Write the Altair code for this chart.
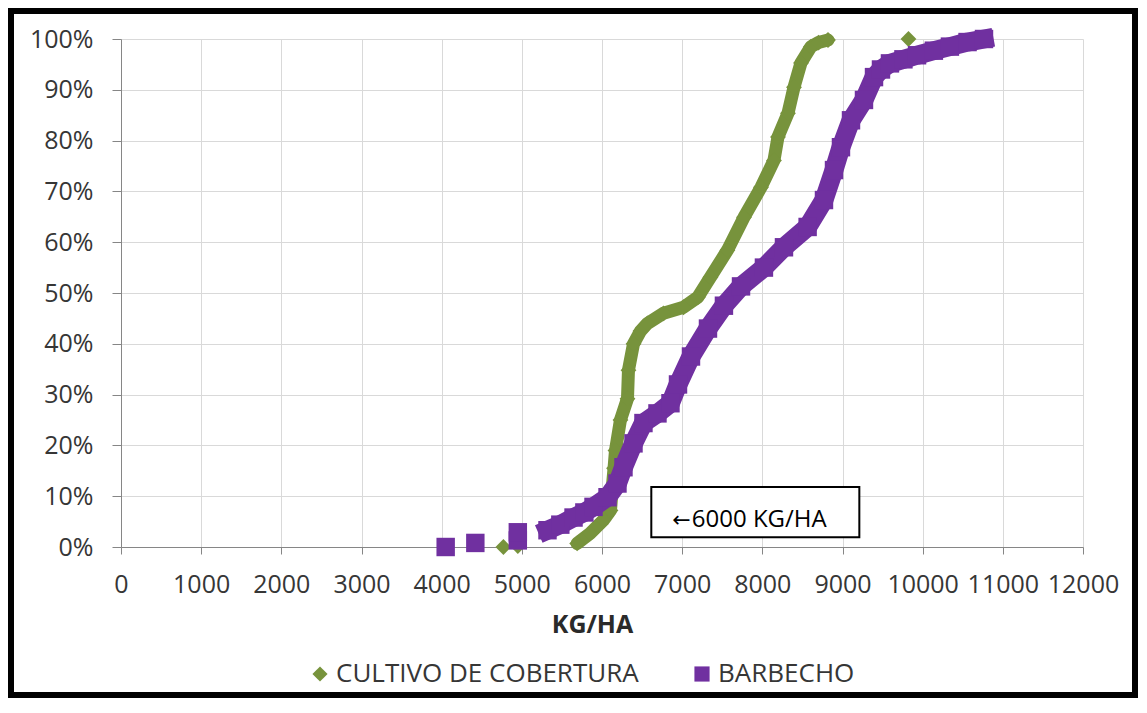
import altair as alt
import pandas as pd

# ---- data ----
series_names = ["CULTIVO DE COBERTURA", "BARBECHO"]
series_colors = ["#77933C", "#7030A0"]
series_shapes = ["diamond", "square"]

# CULTIVO DE COBERTURA (green diamonds) - continuous part of the cumulative curve
green_x = [5690, 5852, 6018, 6106, 6130, 6150, 6168, 6230, 6318, 6330, 6393, 6480, 6567,
           6767, 7017, 7197, 7352, 7564, 7771, 7983, 8145, 8195, 8320, 8395, 8482,
           8607, 8700, 8819]
green_y = [0.7, 2.7, 5.3, 7.2, 12.0, 15.5, 19.0, 25.0, 29.2, 34.8, 40.0, 42.5, 44.0,
           46.0, 47.2, 49.2, 53.1, 58.4, 64.9, 70.8, 76.1, 80.7, 85.4, 90.5, 95.3,
           98.5, 99.3, 99.8]
# isolated green points
green_iso_x = [4770, 4950, 9823]
green_iso_y = [0.0, 0.2, 100.0]

# BARBECHO (purple squares) - continuous part
purple_x = [5320, 5480, 5645, 5780, 5894, 6069, 6193, 6268, 6393, 6517, 6692, 6854,
            6948, 7110, 7322, 7521, 7734, 8020, 8270, 8565, 8769, 8894, 8981, 9106,
            9268, 9393, 9480, 9592, 9760, 9930, 10140, 10340, 10560, 10765]
purple_y = [3.3, 4.4, 5.8, 6.8, 7.9, 9.8, 12.5, 15.7, 20.4, 24.4, 26.3, 28.3,
            32.0, 37.5, 43.0, 47.5, 51.3, 55.0, 59.0, 63.0, 68.3, 74.2, 78.7, 84.0,
            88.0, 92.5, 94.0, 95.2, 96.0, 96.8, 97.7, 98.5, 99.4, 100.0]
# isolated purple points
purple_iso_x = [4050, 4420, 4950, 4950]
purple_iso_y = [0.0, 0.8, 1.3, 2.9]

x_ticks = list(range(0, 12001, 1000))
y_ticks = [i / 10 for i in range(0, 11)]

annot_arrow = ["\u2190"]
annot_text = ["6000 KG/HA"]
annot_arrow_x = [6877]
annot_text_x = [7120]
annot_text_y = [3.9]
annot_box_x = [6615]
annot_box_x2 = [9210]
annot_box_y = [1.9]
annot_box_y2 = [11.8]

# ---- tables ----
green_line = pd.DataFrame({"x": green_x, "y": [v / 100 for v in green_y]})
purple_line = pd.DataFrame({"x": purple_x, "y": [v / 100 for v in purple_y]})

green_pts = pd.DataFrame({"x": green_x + green_iso_x,
                          "y": [v / 100 for v in green_y + green_iso_y],
                          "serie": series_names[0]})
purple_pts = pd.DataFrame({"x": purple_x + purple_iso_x,
                           "y": [v / 100 for v in purple_y + purple_iso_y],
                           "serie": series_names[1]})

W, H = 962, 508
FONT = "Open Sans"
LABEL_COLOR = "#363636"

xscale = alt.Scale(domain=[0, 12000], nice=False, zero=False)
yscale = alt.Scale(domain=[0, 1], nice=False)

xaxis = alt.Axis(values=x_ticks, format="d", title="KG/HA", grid=True,
                 gridColor="#d9d9d9", domainColor="#868686", tickColor="#868686",
                 tickSize=7, labelFont=FONT, labelFontSize=25,
                 labelColor=LABEL_COLOR, labelPadding=18, labelFlush=False,
                 labelOverlap=False, titleFont=FONT, titleFontSize=25,
                 titleFontWeight="bold", titleColor="#2a2a2a", titleX=471,
                 titleY=85, titleBaseline="alphabetic", titleAlign="center")
yaxis = alt.Axis(values=y_ticks, format=".0%", title=None, grid=True,
                 gridColor="#d9d9d9", domainColor="#868686", tickColor="#868686",
                 tickSize=9, labelFont=FONT, labelFontSize=25,
                 labelColor=LABEL_COLOR, labelPadding=19, labelFlush=False,
                 labelOverlap=False)

legend = alt.Legend(title=None, orient="none", legendX=186, legendY=622,
                    direction="horizontal", labelFont=FONT, labelFontSize=26,
                    labelColor=LABEL_COLOR, labelLimit=0, symbolSize=230,
                    labelOffset=3, columnPadding=50, symbolStrokeWidth=0)
color_enc = alt.Color("serie:N",
                      scale=alt.Scale(domain=series_names, range=series_colors),
                      legend=legend)
shape_enc = alt.Shape("serie:N",
                      scale=alt.Scale(domain=series_names, range=series_shapes),
                      legend=legend)

base_grid = alt.Chart(green_pts).mark_point(opacity=0).encode(
    x=alt.X("x:Q", scale=xscale, axis=xaxis),
    y=alt.Y("y:Q", scale=yscale, axis=yaxis),
)

line_g = alt.Chart(green_line).mark_line(
    color=series_colors[0], strokeWidth=13, strokeCap="round", strokeJoin="round"
).encode(x=alt.X("x:Q", scale=xscale), y=alt.Y("y:Q", scale=yscale))

line_p = alt.Chart(purple_line).mark_line(
    color=series_colors[1], strokeWidth=19, strokeCap="square", strokeJoin="round"
).encode(x=alt.X("x:Q", scale=xscale), y=alt.Y("y:Q", scale=yscale))

points_g = alt.Chart(green_pts).mark_point(filled=True, opacity=1, size=250).encode(
    x=alt.X("x:Q", scale=xscale), y=alt.Y("y:Q", scale=yscale),
    color=color_enc, shape=shape_enc)

points_p = alt.Chart(purple_pts).mark_point(filled=True, opacity=1, size=340).encode(
    x=alt.X("x:Q", scale=xscale), y=alt.Y("y:Q", scale=yscale),
    color=color_enc, shape=shape_enc)

box_df = pd.DataFrame({"x": annot_box_x, "x2": annot_box_x2,
                       "y": [v / 100 for v in annot_box_y],
                       "y2": [v / 100 for v in annot_box_y2]})
box = alt.Chart(box_df).mark_rect(fill="white", stroke="black", strokeWidth=2).encode(
    x=alt.X("x:Q", scale=xscale), x2="x2:Q",
    y=alt.Y("y:Q", scale=yscale), y2="y2:Q")

arrow_df = pd.DataFrame({"x": annot_arrow_x, "y": [v / 100 for v in annot_text_y],
                         "t": annot_arrow})
arrow = alt.Chart(arrow_df).mark_text(font="DejaVu Sans", fontSize=22, color="black",
                                      align="left", baseline="alphabetic").encode(
    x=alt.X("x:Q", scale=xscale), y=alt.Y("y:Q", scale=yscale), text="t:N")

txt_df = pd.DataFrame({"x": annot_text_x, "y": [v / 100 for v in annot_text_y],
                       "t": annot_text})
txt = alt.Chart(txt_df).mark_text(font=FONT, fontSize=24, color="black",
                                  align="left", baseline="alphabetic").encode(
    x=alt.X("x:Q", scale=xscale), y=alt.Y("y:Q", scale=yscale), text="t:N")

frame = alt.Chart(green_line).mark_rect(fill=None, stroke="black", strokeWidth=6,
                                        clip=False).encode(
    x=alt.value(-110), x2=alt.value(1014), y=alt.value(-28), y2=alt.value(656))

chart = alt.layer(base_grid, box, arrow, txt, line_g, points_g, line_p, points_p,
                  frame).properties(
    width=W, height=H,
    autosize=alt.AutoSizeParams(type="none"),
    padding={"left": 113, "top": 31, "right": 55, "bottom": 151},
    background="white",
).configure_view(stroke=None)

chart.save("out.html", embed_options={"renderer": "svg", "actions": False})
